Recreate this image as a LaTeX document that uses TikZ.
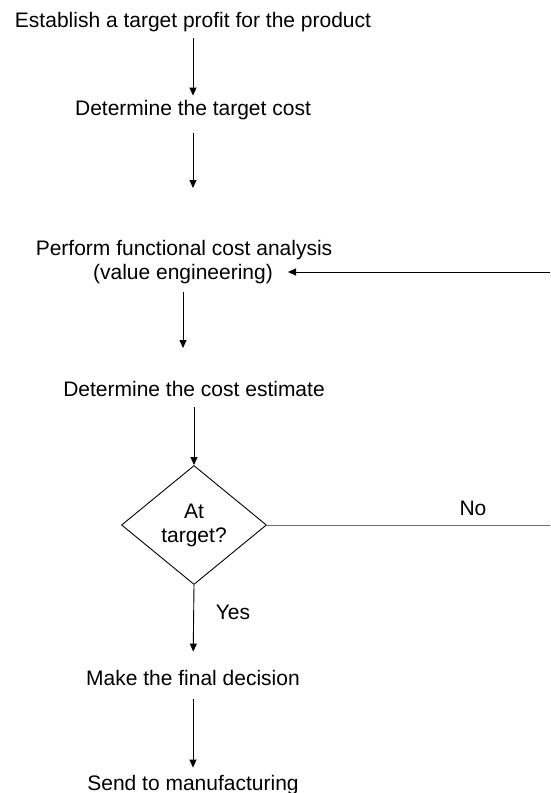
\documentclass[tikz,border=0pt]{standalone}
\usepackage{fontspec}
\setmainfont{Liberation Sans}
\usetikzlibrary{arrows.meta,shapes.geometric}
\definecolor{nogray}{RGB}{110,110,110}
\begin{document}
\begin{tikzpicture}[x=1pt,y=-1pt,
  every node/.style={font=\fontsize{21}{25}\selectfont},
  lbl/.style={inner sep=0pt, anchor=base},
  arr/.style={line width=0.9pt, -{Triangle[width=7pt,length=8pt]}},
  plain/.style={line width=0.9pt},
  decision/.style={diamond, draw, line width=0.9pt, minimum width=145pt, minimum height=119pt, inner sep=0pt, align=center}]
\useasboundingbox (0,0) rectangle (550,793);
% text nodes
\node[lbl] (t1) at (193,27) {Establish a target profit for the product};
\node[lbl] (t2) at (193,115) {Determine the target cost};
\node[lbl] (t3a) at (184,255) {Perform functional cost analysis};
\node[lbl] (t3b) at (183,279) {(value engineering)};
\node[lbl] (t4) at (194,396) {Determine the cost estimate};
\node[decision] (d) at (194,525) {At\\[-1pt]target?};
\node[lbl] (no) at (473,515) {No};
\node[lbl] (yes) at (233,619) {Yes};
\node[lbl] (t5) at (193,685) {Make the final decision};
\node[lbl] (t6) at (193,790) {Send to manufacturing};
% free ends
\coordinate (c2) at (193,188);
\coordinate (c3) at (183,348);
\coordinate (rin) at (550,272);
\coordinate (nout) at (550,525);
% connectors
\draw[arr, shorten <=6.6pt, shorten >=4pt] (t1.south) -- (t2.north);
\draw[arr, shorten <=13.6pt] (t2.south) -- (c2);
\draw[arr, shorten <=8.5pt] (t3b.south) -- (c3);
\draw[arr] (rin) -- (288,272);
\draw[arr, shorten <=11pt] (t4.south) -- (d.north);
\draw[plain, draw=nogray] (d.east) -- (nout);
\draw[arr, shorten >=18pt] (d.south) -- (t5.north);
\draw[arr, shorten <=14pt, shorten >=7pt] (t5.south) -- (t6.north);
\end{tikzpicture}
\end{document}
